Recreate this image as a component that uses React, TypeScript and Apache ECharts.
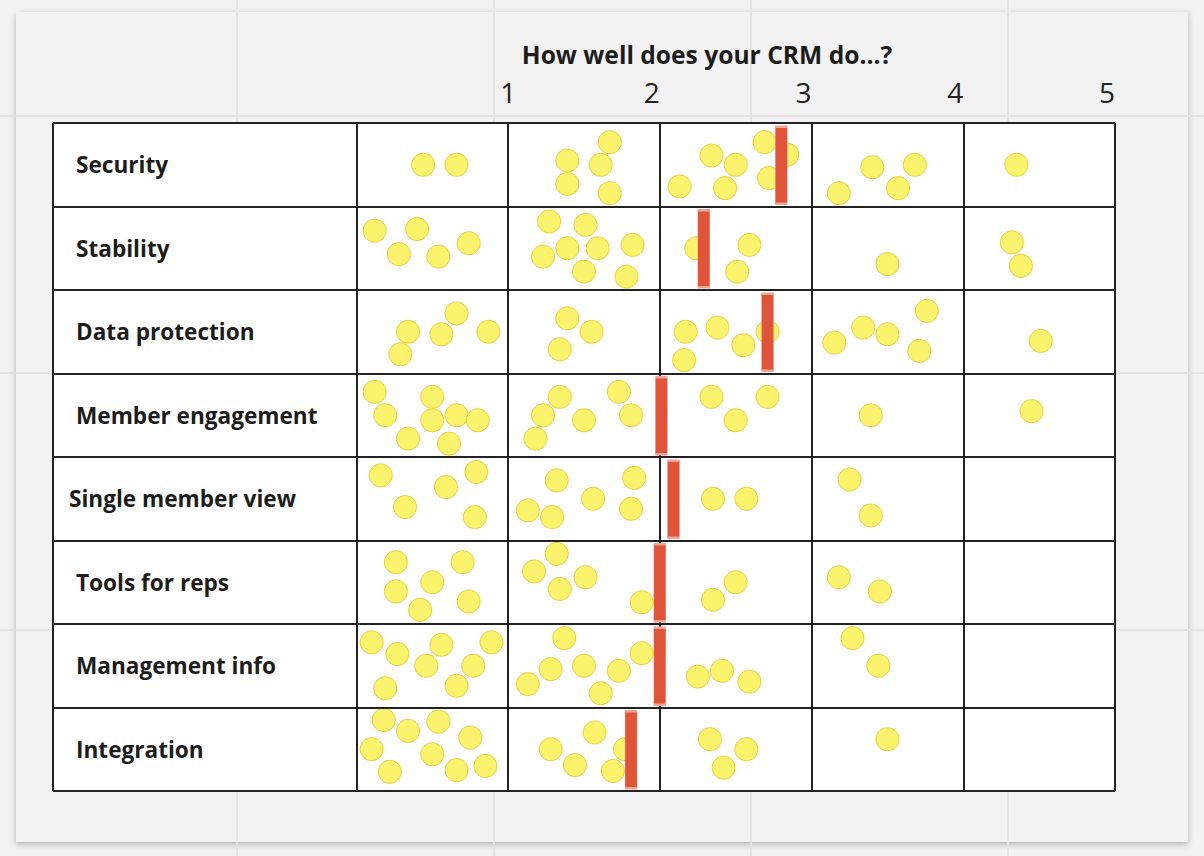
import React, { useEffect, useRef } from "react";
import * as echarts from "echarts";

// ---- data ----
const rows = [
  "Security",
  "Stability",
  "Data protection",
  "Member engagement",
  "Single member view",
  "Tools for reps",
  "Management info",
  "Integration",
];
const scoreTicks = [1, 2, 3, 4, 5];
const chartTitle = "How well does your CRM do...?";

// average score per row (red markers)
const averages = [2.8, 2.29, 2.71, 2.01, 2.09, 2.0, 2.0, 1.81];

// votes: [score position, position within row (0 top .. 1 bottom)]
const securityDots = [
  [0.44, 0.5], [0.66, 0.5],
  [1.67, 0.23], [1.39, 0.45], [1.61, 0.5], [1.39, 0.73], [1.67, 0.84],
  [2.13, 0.76], [2.34, 0.39], [2.5, 0.5], [2.69, 0.23], [2.84, 0.38], [2.72, 0.66], [2.43, 0.78],
  [3.18, 0.84], [3.4, 0.53], [3.68, 0.5], [3.57, 0.78],
  [4.35, 0.5],
];
const stabilityDots = [
  [0.12, 0.29], [0.4, 0.27], [0.28, 0.57], [0.54, 0.6], [0.74, 0.44],
  [1.27, 0.18], [1.51, 0.22], [1.39, 0.5], [1.59, 0.5], [1.82, 0.46], [1.23, 0.6], [1.5, 0.78], [1.78, 0.84],
  [2.24, 0.5], [2.59, 0.46], [2.51, 0.78],
  [3.5, 0.69],
  [4.32, 0.43], [4.38, 0.71],
];
const dataProtectionDots = [
  [0.34, 0.5], [0.66, 0.28], [0.56, 0.53], [0.87, 0.5], [0.29, 0.77],
  [1.39, 0.34], [1.55, 0.5], [1.34, 0.71],
  [2.17, 0.5], [2.38, 0.45], [2.55, 0.66], [2.71, 0.5], [2.16, 0.84],
  [3.15, 0.63], [3.34, 0.45], [3.5, 0.53], [3.76, 0.25], [3.71, 0.73],
  [4.51, 0.61],
];
const memberEngagementDots = [
  [0.12, 0.22], [0.5, 0.28], [0.19, 0.5], [0.5, 0.56], [0.66, 0.5], [0.8, 0.56], [0.34, 0.78], [0.61, 0.84],
  [1.34, 0.28], [1.73, 0.22], [1.23, 0.5], [1.5, 0.56], [1.81, 0.5], [1.18, 0.78],
  [2.34, 0.28], [2.71, 0.28], [2.5, 0.56],
  [3.39, 0.5],
  [4.45, 0.45],
];
const singleMemberViewDots = [
  [0.16, 0.22], [0.79, 0.18], [0.59, 0.36], [0.32, 0.6], [0.78, 0.72],
  [1.32, 0.28], [1.83, 0.25], [1.56, 0.5], [1.13, 0.64], [1.29, 0.72], [1.81, 0.62],
  [2.35, 0.5], [2.57, 0.5],
  [3.25, 0.27], [3.39, 0.7],
];
const toolsForRepsDots = [
  [0.26, 0.26], [0.7, 0.26], [0.5, 0.5], [0.26, 0.61], [0.42, 0.83], [0.74, 0.73],
  [1.32, 0.16], [1.17, 0.37], [1.51, 0.44], [1.34, 0.58], [1.88, 0.74],
  [2.5, 0.5], [2.35, 0.71],
  [3.18, 0.44], [3.45, 0.61],
];
const managementInfoDots = [
  [0.1, 0.22], [0.27, 0.36], [0.56, 0.25], [0.89, 0.22], [0.46, 0.5], [0.77, 0.5], [0.19, 0.77], [0.66, 0.74],
  [1.37, 0.17], [1.88, 0.35], [1.28, 0.54], [1.5, 0.5], [1.73, 0.56], [1.13, 0.72], [1.61, 0.83],
  [2.25, 0.63], [2.41, 0.56], [2.59, 0.69],
  [3.27, 0.17], [3.44, 0.5],
];
const integrationDots = [
  [0.18, 0.15], [0.34, 0.28], [0.54, 0.17], [0.75, 0.36], [0.1, 0.5], [0.5, 0.56], [0.22, 0.77], [0.66, 0.75], [0.85, 0.7],
  [1.57, 0.3], [1.28, 0.5], [1.77, 0.5], [1.44, 0.69], [1.69, 0.76],
  [2.33, 0.38], [2.57, 0.5], [2.42, 0.72],
  [3.5, 0.38],
];
const dotsByRow = [
  securityDots,
  stabilityDots,
  dataProtectionDots,
  memberEngagementDots,
  singleMemberViewDots,
  toolsForRepsDots,
  managementInfoDots,
  integrationDots,
];

const FONT = "'Open Sans', 'Noto Sans', sans-serif";

export default function App() {
  const ref = useRef<HTMLDivElement>(null);

  useEffect(() => {
    if (!ref.current) return;
    const chart = echarts.init(ref.current, undefined, { renderer: "svg" });

    const dotData: number[][] = [];
    dotsByRow.forEach((list, r) => {
      list.forEach(([x, f]) => dotData.push([x, r + f]));
    });
    const barData = averages.map((v, r) => [v, r + 0.505]);

    const colBounds = [-2, 0, ...scoreTicks];
    const rowBounds = [0, ...rows.map((_, i) => i + 1)];
    const lineData: any[] = [
      ...colBounds.map((v) => ({ xAxis: v })),
      ...rowBounds.map((v) => ({ yAxis: v })),
    ];

    const labelBase = {
      fontFamily: FONT,
      fontSize: 22.6,
      fontWeight: "bold" as const,
      color: "#1c1c1c",
    };
    const tickBase = {
      fontFamily: FONT,
      fontSize: 28,
      color: "#222222",
    };

    const option: any = {
      animation: false,
      backgroundColor: "transparent",
      title: {
        text: chartTitle,
        left: 702,
        top: 37,
        textAlign: "center",
        textStyle: {
          fontFamily: FONT,
          fontSize: 24.6,
          fontWeight: "bold",
          color: "#1c1c1c",
        },
      },
      grid: {
        left: 53,
        right: 89,
        top: 123,
        bottom: 65,
        show: true,
        backgroundColor: "#ffffff",
        borderWidth: 0,
      },
      xAxis: {
        type: "value",
        position: "top",
        min: -2,
        max: 5,
        interval: 1,
        axisLine: { show: false },
        axisTick: { show: false },
        splitLine: { show: false },
        axisLabel: {
          formatter: (v: number) => {
            if (!scoreTicks.includes(v)) return "";
            return v === 1 ? `{c|${v}}` : `{p|${v}}`;
          },
          ...tickBase,
          align: "center",
          margin: 17,
          rich: {
            c: { ...tickBase },
            p: { ...tickBase, padding: [0, 16, 0, 0] },
          },
        },
      },
      yAxis: {
        type: "value",
        min: 0,
        max: rows.length,
        interval: 0.5,
        inverse: true,
        axisLine: { show: false },
        axisTick: { show: false },
        splitLine: { show: false },
        axisLabel: {
          inside: true,
          margin: 16,
          formatter: (v: number) => {
            if (Math.abs((v % 1) - 0.5) > 0.01) return "";
            const name = rows[Math.floor(v)];
            if (!name) return "";
            return name === "Single member view" ? `{a|${name}}` : `{b|${name}}`;
          },
          rich: {
            a: { ...labelBase },
            b: { ...labelBase, padding: [0, 0, 0, 7] },
          },
        },
      },
      series: [
        {
          type: "scatter",
          name: "votes",
          silent: true,
          z: 3,
          symbol: "circle",
          symbolSize: 23,
          itemStyle: {
            color: "#fcf36c",
            borderColor: "#efcb3c",
            borderWidth: 1,
            opacity: 1,
          },
          data: dotData,
          markLine: {
            silent: true,
            symbol: ["none", "none"],
            label: { show: false },
            lineStyle: { color: "#222222", width: 2, type: "solid" },
            emphasis: { disabled: true },
            data: lineData,
          },
        },
        {
          type: "scatter",
          name: "average",
          silent: true,
          z: 5,
          symbol: "rect",
          symbolSize: [12, 77],
          itemStyle: {
            color: "#e0553a",
            borderColor: "#f2a594",
            borderWidth: 1,
            opacity: 1,
          },
          data: barData,
        },
      ],
    };

    chart.setOption(option);
    return () => chart.dispose();
  }, []);

  return (
    <div
      style={{
        position: "fixed",
        left: 0,
        top: 0,
        width: 1204,
        height: 856,
        background: "#f2f2f2",
        overflow: "hidden",
      }}
    >
      <div
        style={{
          position: "absolute",
          left: 16,
          top: 12,
          width: 1172,
          height: 830,
          background: "#f2f2f2",
          boxShadow: "0 2px 6px rgba(0,0,0,0.28)",
        }}
      />
      <div
        style={{
          position: "absolute",
          left: 0,
          top: 0,
          width: 1204,
          height: 856,
          backgroundImage:
            "linear-gradient(to right, #e3e3e3 0px, #e3e3e3 2px, transparent 2px), linear-gradient(to bottom, #e3e3e3 0px, #e3e3e3 2px, transparent 2px)",
          backgroundSize: "257px 257px",
          backgroundPosition: "236px 115px",
        }}
      />
      <div
        ref={ref}
        style={{ position: "absolute", left: 0, top: 0, width: 1204, height: 856 }}
      />
    </div>
  );
}
